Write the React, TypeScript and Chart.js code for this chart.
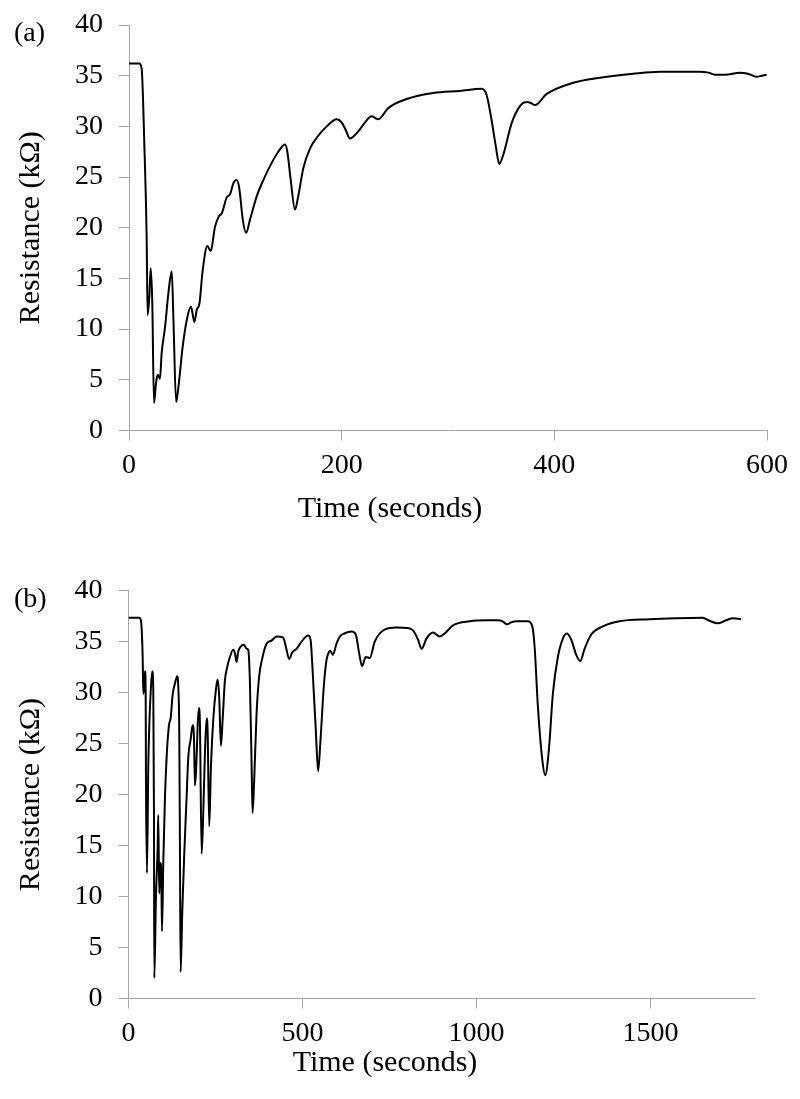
import React, { useEffect, useRef } from "react";
import { Chart, registerables } from "chart.js";

Chart.register(...registerables);

// ---- Data: panel (a) ----
const TIME_A = [
  0, 5, 9.7, 11.9, 14.4, 16.6, 17.5, 19.1, 20.4, 21.9, 23.5, 25.4, 27.0, 29.1, 30.7, 33.9, 37.0, 40.2, 41.8,
  44.3, 46.5, 50.5, 54.9, 58.3, 61.5, 63.7, 66.2, 69.3, 73.7, 76.8, 80.9, 85.0, 87.2, 91.9, 95.0, 98.2, 101.3,
  103.7, 107.0, 110.1, 113.8, 120.1, 126.3, 134.2, 140.4, 146.7, 148.9, 152.1, 156.1, 159.3, 164.0, 170.2,
  178.1, 186.0, 195.3, 200.0, 204, 207.8, 211, 215.6, 222, 228.1, 232, 234.4, 243.8, 261.1, 286.1, 311.2,
  331.6, 336.3, 341.0, 345, 348.2, 352.0, 359.8, 367.7, 374.0, 378, 381.8, 392.8, 417.8, 442.9, 474.3, 499.4,
  537.0, 545, 551.1, 560.5, 574.6, 582, 590.3, 595, 599.7,
];
const RES_A = [
  36.2, 36.2, 36.2, 35.7, 28.3, 19.1, 11.4, 13.2, 16.0, 12.6, 2.7, 4.7, 5.5, 5.1, 7.6, 10.2, 13.5, 15.7, 10.9,
  2.8, 4.3, 8.3, 11.2, 12.2, 10.7, 11.9, 12.5, 15.8, 18.2, 17.7, 20.1, 21.2, 21.4, 23.0, 23.3, 24.4, 24.7,
  23.9, 20.8, 19.5, 20.8, 23.1, 24.7, 26.4, 27.5, 28.2, 27.5, 24.7, 21.8, 23.2, 25.9, 27.8,
  29.1, 30.0, 30.7, 30.4, 29.6, 28.8, 29.0, 29.5, 30.4, 31.0, 30.8, 30.7, 31.8, 32.7, 33.3, 33.5,
  33.7, 33.1, 30.6, 28.0, 26.3, 27.2, 30.3, 32.0, 32.4, 32.3, 32.1, 33.2, 34.3, 34.8, 35.2, 35.4,
  35.4, 35.3, 35.1, 35.1, 35.3, 35.2, 34.9, 35.0, 35.1,
];

// ---- Data: panel (b) ----
const TIME_B = [
  0, 31, 36, 40.7, 42.6, 45.4, 47.4, 49.3, 50.2, 53.1, 56.8, 59.7, 64.6, 68.3, 71.2, 73.2, 74.1, 78.9, 83.8,
  85.5, 88.4, 91.3, 94.1, 96.2, 99.9, 104.8, 109.6, 116.2, 121.1, 126.9, 133.5, 140.1, 143, 145.8, 147.8,
  149.8, 154.4, 160.2, 167.0, 171.8, 178.5, 184.3, 188.0, 190.9, 194.7, 198.6, 202.4, 205.2, 210.1, 214.8,
  219.6, 224.5, 227.3, 232.0, 236.8, 243.4, 251.1, 256.0, 260.6, 265.5, 270.4, 277.0, 283.6, 291.3, 300.8,
  305.7, 310.5, 315.2, 322.0, 331.5, 339.3, 343.9, 348.7, 353.6, 356.5, 361.1, 368.0, 375.4, 385.2, 396.7,
  411.0, 425.4, 444.3, 452.1, 461.6, 471.3, 482.8, 497.1, 516.2, 523.0, 530.5, 538.2, 544.8, 551.7, 561.1,
  568.9, 576, 580, 587, 597.6, 607.1, 620, 640.6, 653.0, 662.5, 671.1, 681.7, 693.2, 707.5, 731.4, 769.8,
  800, 817.5, 831.8, 842.4, 855.9, 874.9, 894.1, 908.4, 932.3, 980.2, 1028.1, 1061.5, 1075, 1087.3, 1100,
  1114.2, 1147.6, 1160.2, 1166.8, 1176.3, 1188.9, 1197.5, 1207.8, 1219.3, 1233.6, 1248.0, 1259.5, 1272.1,
  1286.4, 1297.9, 1310.3, 1329.5, 1362.8, 1410.7, 1496.8, 1573.5, 1649.8, 1669.0, 1692.9, 1717.0, 1736.0,
  1760.0,
];
const RES_B = [
  37.35, 37.35, 37.0, 33.5, 29.9, 30.6, 32.1, 30.3, 21.4, 12.3, 22.7, 26.7, 30.6, 32.1, 30.3, 18.2, 2.0, 10.0, 14.9,
  18.0, 10.3, 13.3, 12.6, 6.6, 13.3, 19.8, 23.7, 26.8, 27.5, 29.8, 30.9, 31.6, 30.6, 26.3, 14.9,
  2.6, 8.4, 14.2, 19.8, 23.7, 25.4, 26.8, 25.7, 20.9, 22.7, 26.7, 28.5, 27.0, 14.2, 18.2,
  24.1, 27.5, 26.3, 16.9, 22.7, 27.3, 30.3, 31.3, 29.6, 24.8, 27.3, 31.2, 32.5, 33.5, 34.2,
  33.9, 33.0, 34.0, 34.5, 34.7, 34.3, 34.2, 31.2, 23.1, 18.2, 21.4, 28.0, 31.6, 33.5, 34.8,
  35.1, 35.5, 35.4, 34.5, 33.3, 34.0, 34.3, 35.0, 35.6, 35.2, 31.2, 26.3, 22.3, 25.4, 30.6,
  33.2, 34.0, 34.1, 33.7, 34.8, 35.5, 35.8, 36.0, 35.7, 33.9, 32.6, 33.5, 33.4, 35.0, 36.1, 36.4,
  36.35, 36.1, 35.2, 34.3, 35.3, 35.9, 35.5, 35.8, 36.6, 37.0, 37.1, 37.1, 37.0, 36.7, 36.9,
  37.0, 37.0, 36.5, 34.5, 28.6, 23.4, 21.9, 24.4, 29.9, 33.5, 35.3, 35.8, 35.2,
  33.7, 33.1, 34.3, 35.7, 36.5, 37.0, 37.2, 37.3, 37.35, 37.05, 36.8, 37.1, 37.3,
  37.2,
];

// ---- Axis ticks ----
const X_TICKS_A = [0, 200, 400, 600];
const X_TICKS_B = [0, 500, 1000, 1500];
const Y_TICKS = [0, 5, 10, 15, 20, 25, 30, 35, 40];
const X_MAX_A = 600;
const X_MAX_B = 1800;
const Y_MAX = 40;

const Y_TITLE = "Resistance (kΩ)";
const X_TITLE = "Time (seconds)";

const SERIF = "'Liberation Serif', 'Times New Roman', serif";
const AXIS_GRAY = "#a6a6a6";

type PanelCfg = {
  time: number[];
  res: number[];
  xTicks: number[];
  xMax: number;
  width: number;
  height: number;
  padTop: number;
  padRight: number;
  yWidth: number;
  xHeight: number;
};

function makeChart(canvas: HTMLCanvasElement, cfg: PanelCfg) {
  const pts = cfg.time.map((t, i) => ({ x: t, y: cfg.res[i] }));
  return new Chart(canvas, {
    type: "scatter",
    data: {
      datasets: [
        {
          data: pts,
          showLine: true,
          borderColor: "#000000",
          borderWidth: 2,
          pointRadius: 0,
          pointHoverRadius: 0,
          cubicInterpolationMode: "monotone",
          fill: false,
        },
      ],
    },
    options: {
      responsive: false,
      animation: false,
      devicePixelRatio: 1,
      layout: { padding: { left: 0, top: cfg.padTop, right: cfg.padRight, bottom: 0 } },
      plugins: { legend: { display: false }, tooltip: { enabled: false }, title: { display: false } },
      scales: {
        x: {
          type: "linear",
          min: 0,
          max: cfg.xMax,
          afterBuildTicks: (axis: any) => {
            axis.ticks = cfg.xTicks.map((v) => ({ value: v }));
          },
          afterFit: (scale: any) => {
            scale.height = cfg.xHeight;
          },
          grid: { drawOnChartArea: false, drawTicks: true, tickLength: 10, color: AXIS_GRAY, lineWidth: 1 },
          border: { display: true, color: AXIS_GRAY, width: 1 },
          ticks: {
            color: "#000000",
            padding: 8,
            maxRotation: 0,
            autoSkip: false,
            font: { family: SERIF, size: 28 },
            callback: (v: any) => String(v),
          },
        },
        y: {
          type: "linear",
          min: 0,
          max: Y_MAX,
          afterBuildTicks: (axis: any) => {
            axis.ticks = Y_TICKS.map((v) => ({ value: v }));
          },
          afterFit: (scale: any) => {
            scale.width = cfg.yWidth;
            scale.paddingTop = 10;
            scale.paddingBottom = 10;
          },
          grid: { drawOnChartArea: false, drawTicks: true, tickLength: 10, color: AXIS_GRAY, lineWidth: 1 },
          border: { display: true, color: AXIS_GRAY, width: 1 },
          ticks: {
            color: "#000000",
            padding: 16,
            autoSkip: false,
            font: { family: SERIF, size: 28 },
            callback: (v: any) => String(v),
          },
          title: {
            display: true,
            text: Y_TITLE,
            color: "#000000",
            font: { family: SERIF, size: 30 },
            padding: { top: 13, bottom: 0 },
          },
        },
      },
    },
  } as any);
}

function Panel(props: { cfg: PanelCfg; top: number }) {
  const ref = useRef<HTMLCanvasElement | null>(null);
  useEffect(() => {
    if (!ref.current) return;
    const ch = makeChart(ref.current, props.cfg);
    return () => ch.destroy();
  }, []);
  return (
    <canvas
      ref={ref}
      width={props.cfg.width}
      height={props.cfg.height}
      style={{
        position: "absolute",
        left: 0,
        top: props.top,
        width: props.cfg.width,
        height: props.cfg.height,
      }}
    />
  );
}

const textStyle: React.CSSProperties = {
  position: "absolute",
  fontFamily: SERIF,
  color: "#000",
  whiteSpace: "nowrap",
};

export default function App() {
  const cfgA: PanelCfg = {
    time: TIME_A,
    res: RES_A,
    xTicks: X_TICKS_A,
    xMax: X_MAX_A,
    width: 800,
    height: 550,
    padTop: 25,
    padRight: 33,
    yWidth: 129,
    xHeight: 119.5,
  };
  const cfgB: PanelCfg = {
    time: TIME_B,
    res: RES_B,
    xTicks: X_TICKS_B,
    xMax: X_MAX_B,
    width: 800,
    height: 549,
    padTop: 40.7,
    padRight: 45,
    yWidth: 128.5,
    xHeight: 100.5,
  };
  return (
    <div style={{ position: "absolute", left: 0, top: 0, width: 800, height: 1099, background: "#fff" }}>
      <Panel cfg={cfgA} top={0} />
      <Panel cfg={cfgB} top={550} />
      <div style={{ ...textStyle, left: 14, top: 15, fontSize: 28, lineHeight: "34px" }}>(a)</div>
      <div style={{ ...textStyle, left: 14, top: 581, fontSize: 28, lineHeight: "34px" }}>(b)</div>
      <div
        style={{
          ...textStyle,
          left: 390,
          top: 489,
          fontSize: 30,
          lineHeight: "36px",
          transform: "translateX(-50%)",
        }}
      >
        {X_TITLE}
      </div>
      <div
        style={{
          ...textStyle,
          left: 385,
          top: 1043,
          fontSize: 30,
          lineHeight: "36px",
          transform: "translateX(-50%)",
        }}
      >
        {X_TITLE}
      </div>
    </div>
  );
}
